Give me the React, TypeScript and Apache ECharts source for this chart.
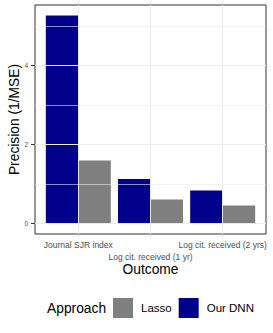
import React, { useEffect, useRef } from "react";
import * as echarts from "echarts";

const categories = ["Journal SJR index", "Log cit. received (1 yr)", "Log cit. received (2 yrs)"];
const dnnValues = [5.27, 1.13, 0.835];
const lassoValues = [1.6, 0.61, 0.46];
const yTicks = [0, 2, 4];
const yMinorGrid = [1, 3, 5];
const legendNames = ["Lasso", "Our DNN"];

const FONT = "Liberation Sans";

export default function App() {
  const ref = useRef<HTMLDivElement>(null);
  useEffect(() => {
    if (!ref.current) return;
    const chart = echarts.init(ref.current, null, { renderer: "svg" });
    const all = [...dnnValues, ...lassoValues, 0];
    const dMax = Math.max(...all);
    const dMin = Math.min(...all);
    const pad = (dMax - dMin) * 0.05;
    const xPositions = categories.map((_, i) => i + 1);
    const upperRow = xPositions.filter((_, i) => i % 2 === 0);
    const lowerRow = xPositions.filter((_, i) => i % 2 === 1);
    const labelFmt = (v: number) => categories[Math.round(v) - 1] ?? "";
    const baseLabel = {
      interval: 0,
      hideOverlap: false,
      showMinLabel: true,
      showMaxLabel: true,
      formatter: labelFmt,
      fontSize: 8.5,
      color: "#4d4d4d",
      fontFamily: FONT,
    };
    chart.setOption({
      animation: false,
      backgroundColor: "#ffffff",
      textStyle: { fontFamily: FONT },
      grid: {
        left: 35,
        top: 5,
        width: 231,
        height: 229,
        show: true,
        borderColor: "#333333",
        borderWidth: 1,
        backgroundColor: "transparent",
        containLabel: false,
        outerBoundsMode: "none",
      },
      xAxis: [
        {
          type: "value",
          position: "bottom",
          min: 0.4,
          max: categories.length + 0.6,
          axisLine: { show: false },
          splitLine: { show: false },
          axisTick: { show: true, customValues: xPositions, length: 3, lineStyle: { color: "#333333" } },
          axisLabel: { ...baseLabel, customValues: upperRow, margin: 6 },
          name: "Outcome",
          nameLocation: "middle",
          nameGap: 28,
          nameMoveOverlap: false,
          nameTextStyle: { fontSize: 13.8, color: "#000000", fontFamily: FONT },
        },
        {
          type: "value",
          position: "bottom",
          offset: 0,
          min: 0.4,
          max: categories.length + 0.6,
          axisLine: { show: false },
          splitLine: { show: false },
          axisTick: { show: false },
          axisLabel: { ...baseLabel, customValues: lowerRow, margin: 18 },
        },
      ],
      yAxis: {
        type: "value",
        min: dMin - pad,
        max: dMax + pad,
        axisLine: { show: false },
        splitLine: { show: false },
        axisTick: { show: true, customValues: yTicks, length: 4, lineStyle: { color: "#333333" } },
        axisLabel: {
          customValues: yTicks,
          fontSize: 6.5,
          color: "#4d4d4d",
          margin: 7,
          fontFamily: FONT,
        },
        name: "Precision (1/MSE)",
        nameLocation: "middle",
        nameGap: 14,
        nameMoveOverlap: false,
        nameTextStyle: { fontSize: 13.8, color: "#000000", fontFamily: FONT },
      },
      legend: {
        data: legendNames,
        left: 113,
        top: 298,
        itemWidth: 20,
        itemHeight: 20,
        itemGap: 7,
        icon: "rect",
        padding: 0,
        textStyle: { fontSize: 11.5, color: "#000000", fontFamily: FONT, padding: [0, 0, 0, 3] },
      },
      graphic: [
        {
          type: "text",
          style: {
            text: "Approach",
            x: 47,
            y: 308.5,
            fontSize: 13.8,
            fontFamily: FONT,
            fill: "#000000",
            verticalAlign: "middle",
          },
        },
      ],
      series: [
        {
          name: "gridlines",
          type: "line",
          data: [],
          z: 1,
          silent: true,
          markLine: {
            silent: true,
            symbol: ["none", "none"],
            label: { show: false },
            animation: false,
            data: [
              ...yTicks.map((v) => ({ yAxis: v, lineStyle: { color: "#ebebeb", width: 1, type: "solid" } })),
              ...yMinorGrid.map((v) => ({ yAxis: v, lineStyle: { color: "#ebebeb", width: 0.6, type: "solid" } })),
              ...xPositions.map((v) => ({ xAxis: v, lineStyle: { color: "#ebebeb", width: 1, type: "solid" } })),
            ],
          },
        },
        {
          name: "Our DNN",
          type: "bar",
          z: 2,
          barWidth: 32.5,
          barGap: "0%",
          itemStyle: { color: "#00008B" },
          data: dnnValues.map((v, i) => [xPositions[i], v]),
        },
        {
          name: "Lasso",
          type: "bar",
          z: 2,
          barWidth: 32.5,
          barGap: "0%",
          itemStyle: { color: "#7F7F7F" },
          data: lassoValues.map((v, i) => [xPositions[i], v]),
        },
      ],
    });
    return () => chart.dispose();
  }, []);
  return (
    <div
      ref={ref}
      style={{ position: "fixed", left: 0, top: 0, width: 273, height: 333 }}
    />
  );
}
